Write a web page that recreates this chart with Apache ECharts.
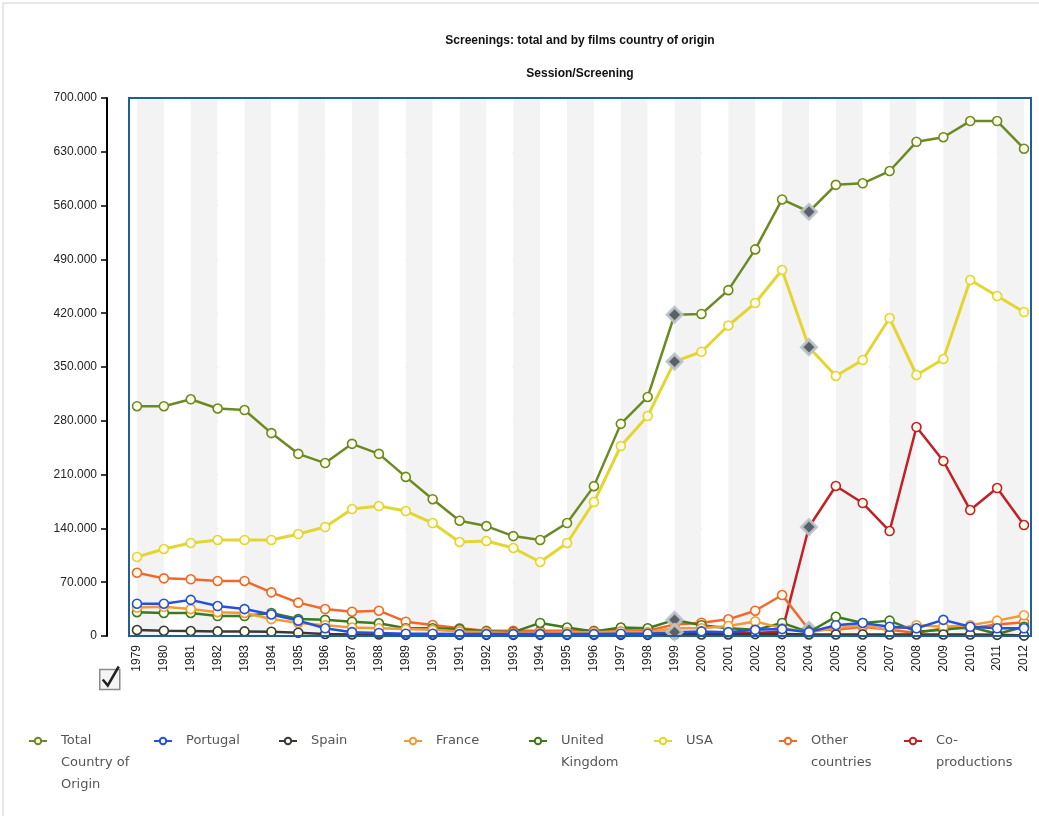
<!DOCTYPE html>
<html><head><meta charset="utf-8">
<script src="https://cdn.jsdelivr.net/npm/echarts@6/dist/echarts.min.js"></script>
<style>html,body{margin:0;padding:0;background:#fff}#c{width:1039px;height:816px}</style>
</head><body><div id="c"></div>
<script>
// ---------- DATA ----------
const years = ['1979','1980','1981','1982','1983','1984','1985','1986','1987','1988','1989','1990','1991','1992','1993','1994','1995','1996','1997','1998','1999','2000','2001','2002','2003','2004','2005','2006','2007','2008','2009','2010','2011','2012'];
const seriesNames = ['Total Country of Origin','Portugal','Spain','France','United Kingdom','USA','Other countries','Co-productions'];
const legendLabels = ['Total\nCountry of\nOrigin','Portugal','Spain','France','United\nKingdom','USA','Other\ncountries','Co-\nproductions'];
const yTicks = [0,70000,140000,210000,280000,350000,420000,490000,560000,630000,700000];

const totalOrigin = [299000,299000,308000,296000,294000,264000,237000,225000,250000,237000,207000,178000,150000,143000,130000,125000,147000,195000,276000,311000,418000,419000,450000,503000,568000,552000,587000,589000,605000,643000,649000,670000,670000,634000];
const portugal = [42000,42000,47000,39000,35000,28000,20000,10000,5000,4000,3000,3000,2500,2500,2500,2500,2500,2500,3000,3000,5000,6000,5000,8000,9000,5000,14000,17000,12000,10000,21000,12000,10000,10000];
const spain = [7800,6900,6500,6000,6000,5600,4300,2600,2000,2000,1500,1500,1500,1500,1500,1500,1500,1500,1500,1500,2000,2000,2000,2500,2500,2000,2000,2000,2000,2000,2000,2000,1500,500];
const france = [37000,38000,35000,31000,30000,22000,17000,14000,11000,10000,9000,8000,6000,5000,4000,4000,5000,5000,6000,5000,10000,10000,13000,19000,10000,5000,10000,14000,8000,14000,12000,14000,20000,27000];
const unitedKingdom = [31000,30000,30000,26000,26000,30000,22000,21000,18600,16500,10000,10000,9000,6000,5000,17000,11000,6000,11000,10000,21000,14000,10000,8000,17000,5000,25000,17000,20000,5600,8000,12000,2600,12000];
const usa = [102800,113200,121000,124900,125000,125000,132700,141800,165200,169100,162600,147000,122300,123600,114500,96300,121000,174300,247200,286200,357000,369800,404000,433200,476200,375800,338300,359100,413700,339600,360400,463200,442300,421500];
const otherCountries = [82300,75000,73800,71600,71600,56800,43400,35100,31600,32900,18600,14300,10000,6900,6900,6900,6900,6900,7800,6900,15000,17300,21700,32900,53300,8000,8000,12000,8000,4000,10000,10000,15000,18000];
const coProductions = [null,null,null,null,null,null,null,null,null,null,null,null,null,null,null,null,null,null,null,null,3000,3500,4000,4000,6000,141800,195200,173000,136600,271900,227700,163900,192500,144400];
// points flagged with a diamond marker in the source chart
const flaggedYears = {
  'Total Country of Origin': ['1999','2004'],
  'USA': ['1999','2004'],
  'United Kingdom': ['1999'],
  'Portugal': ['1999'],
  'Other countries': ['2004'],
  'Co-productions': ['2004']
};
const seriesValues = [totalOrigin, portugal, spain, france, unitedKingdom, usa, otherCountries, coProductions];

// ---------- STYLE ----------
const colors = ['#6b8a22','#2450e0','#3a3a3a','#f39a38','#3c7a1e','#e3d632','#f0682a','#c41f25'];
const widths = [2.5,2.5,2.5,2.5,2.5,3,2.5,2.5];
const fmt = v => String(v).replace(/\B(?=(\d{3})+(?!\d))/g, '.');

const series = seriesNames.map((name, i) => {
  const flags = flaggedYears[name] || [];
  return {
    name: name,
    type: 'line',
    data: seriesValues[i].map((v, j) => {
      if (v !== null && flags.indexOf(years[j]) >= 0) {
        return {value: v, symbol: 'diamond', symbolSize: 15,
          itemStyle: {color: '#5c6169', borderColor: 'rgba(190,196,202,0.9)', borderWidth: 3}};
      }
      return v;
    }),
    symbol: 'circle',
    symbolSize: 9,
    showAllSymbol: true,
    connectNulls: false,
    lineStyle: {color: colors[i], width: widths[i]},
    itemStyle: {color: '#fffde9', borderColor: colors[i], borderWidth: 1.6},
    emphasis: {disabled: true},
    z: 10 - i
  };
});

// first line of each legend label sits level with its icon: pad with leading blank lines
const legendText = legendLabels.map(s => {
  const n = s.split('\n').length;
  return '\n'.repeat(n - 1) + s;
});

const chart = echarts.init(document.getElementById('c'), null, {renderer: 'canvas'});
chart.setOption({
  animation: false,
  backgroundColor: '#fff',
  title: [
    {text: 'Screenings: total and by films country of origin', left: 580, top: 35, textAlign: 'center', padding: 0,
     textStyle: {fontFamily: 'Liberation Sans, Arial', fontSize: 12, fontWeight: 'bold', color: '#111'}},
    {text: 'Session/Screening', left: 580, top: 68, textAlign: 'center', padding: 0,
     textStyle: {fontFamily: 'Liberation Sans, Arial', fontSize: 12, fontWeight: 'bold', color: '#111'}}
  ],
  grid: {left: 137, right: 15, top: 98, bottom: 180, containLabel: false},
  xAxis: {
    type: 'category', data: years, boundaryGap: false,
    axisLine: {show: false}, axisTick: {show: false},
    axisLabel: {rotate: 90, margin: 9, fontSize: 12, color: '#222', fontFamily: 'Liberation Sans, Arial', interval: 0},
    splitLine: {show: false},
    splitArea: {show: true, areaStyle: {color: ['#f3f3f3', '#ffffff']}}
  },
  yAxis: {
    type: 'value', min: 0, max: 700000, interval: 70000, offset: 30,
    axisLine: {show: true, lineStyle: {color: '#000', width: 2}},
    axisTick: {show: true, length: 6, lineStyle: {color: '#000', width: 1.5}},
    axisLabel: {margin: 10, fontSize: 12, color: '#222', fontFamily: 'Liberation Sans, Arial',
      formatter: v => yTicks.indexOf(v) >= 0 ? fmt(v) : ''},
    splitLine: {show: true, lineStyle: {color: '#9a9a9a', type: [1, 3], width: 1}}
  },
  legend: {
    left: 28, top: 686, padding: 0, itemGap: 4, itemWidth: 18, itemHeight: 8,
    selectedMode: false,
    data: seriesNames,
    formatter: n => legendText[seriesNames.indexOf(n)],
    textStyle: {fontFamily: 'DejaVu Sans, Verdana', fontSize: 13, color: '#555', lineHeight: 22, width: 88, padding: [0, 0, 0, 9]}
  },
  graphic: [
    {type: 'rect', z: 100, silent: true, shape: {x: 129, y: 98, width: 902, height: 538},
     style: {fill: 'none', stroke: '#1d5f96', lineWidth: 2}},
    {type: 'rect', z: 0, silent: true, shape: {x: 3, y: 3, width: 1100, height: 900},
     style: {fill: 'none', stroke: '#cfcfcf', lineWidth: 1}},
    {type: 'group', left: 99, top: 664, children: [
      {type: 'rect', shape: {x: 0, y: 0, width: 20, height: 20},
       style: {fill: '#f4f4f4', stroke: '#8a8a8a', lineWidth: 1.5}},
      {type: 'polyline', shape: {points: [[3, 10], [8, 16], [19, -3]]},
       style: {stroke: '#222', lineWidth: 2.5, fill: 'none'}}
    ]}
  ],
  series: series
});
</script>
</body></html>
